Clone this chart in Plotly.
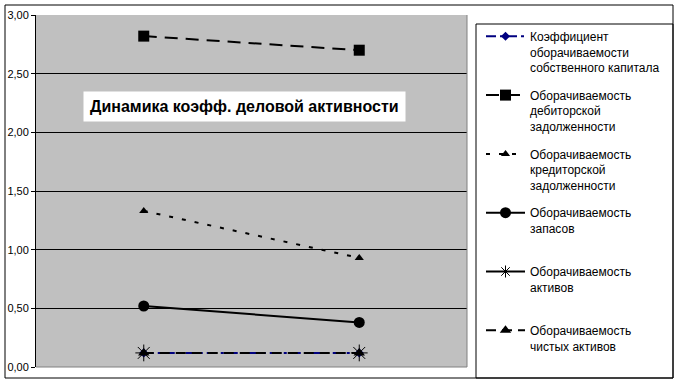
import plotly.graph_objects as go

categories = ["Период 1", "Период 2"]

names = [
    "Коэффициент<br>оборачиваемости<br>собственного капитала",
    "Оборачиваемость<br>дебиторской<br>задолженности",
    "Оборачиваемость<br>кредиторской<br>задолженности",
    "Оборачиваемость<br>запасов<br>&nbsp;",
    "Оборачиваемость<br>активов<br>&nbsp;",
    "Оборачиваемость<br>чистых активов<br>&nbsp;",
]
equity_turnover = [0.12, 0.12]
receivables_turnover = [2.82, 2.70]
payables_turnover = [1.33, 0.93]
inventory_turnover = [0.52, 0.38]
assets_turnover = [0.12, 0.12]
net_assets_turnover = [0.12, 0.12]

title_text = "Динамика коэфф. деловой активности"
y_ticks = [0, 0.5, 1, 1.5, 2, 2.5, 3]

W, H = 678, 383
L, R, T, B = 36, 467, 15, 367
pw, ph = R - L, B - T


def px(x):
    return (x - L) / pw


def py(y):
    return (B - y) / ph


fig = go.Figure()

fig.add_trace(go.Scatter(
    x=categories, y=equity_turnover, name=names[0], legendgroup="g0",
    mode="lines+markers",
    line=dict(color="#000080", width=2, dash="10px,4px,3px,4px"),
    marker=dict(symbol="diamond", size=7, color="#000080"),
))
fig.add_trace(go.Scatter(
    x=categories, y=receivables_turnover, name=names[1], legendgroup="g1",
    mode="lines+markers",
    line=dict(color="black", width=2, dash="13px,8px"),
    marker=dict(symbol="square", size=11, color="black"),
))
fig.add_trace(go.Scatter(
    x=categories, y=payables_turnover, name=names[2], legendgroup="g2",
    mode="lines+markers",
    line=dict(color="black", width=2, dash="4px,9px"),
    marker=dict(symbol="triangle-up", size=8, color="black"),
))
fig.add_trace(go.Scatter(
    x=categories, y=inventory_turnover, name=names[3], legendgroup="g3",
    mode="lines+markers",
    line=dict(color="black", width=2),
    marker=dict(symbol="circle", size=11, color="black"),
))
# assets turnover: markers in plot, line shown only in legend
fig.add_trace(go.Scatter(
    x=categories, y=[None, None], name=names[4], legendgroup="g4",
    mode="lines+markers",
    line=dict(color="black", width=2),
    marker=dict(symbol="asterisk-open", size=10, color="black", line=dict(color="black", width=1)),
))
fig.add_trace(go.Scatter(
    x=categories, y=assets_turnover, name=names[4], legendgroup="g4", showlegend=False,
    mode="markers",
    marker=dict(symbol="asterisk-open", size=14, color="black", line=dict(color="black", width=1)),
))
fig.add_trace(go.Scatter(
    x=categories, y=net_assets_turnover, name=names[5], legendgroup="g5",
    mode="lines+markers",
    line=dict(color="black", width=2, dash="10px,6px"),
    marker=dict(symbol="triangle-up", size=10, color="black"),
))

shapes = [
    # outer frame
    dict(type="rect", xref="paper", yref="paper",
         x0=px(5), x1=px(673), y0=py(378), y1=py(5),
         line=dict(color="black", width=1), layer="below"),
    # legend frame
    dict(type="rect", xref="paper", yref="paper",
         x0=px(476), x1=px(673), y0=py(378), y1=py(24),
         line=dict(color="black", width=1), layer="above"),
    # plot area right/bottom gray border
    dict(type="line", xref="paper", yref="paper", x0=1, x1=1, y0=0, y1=1,
         line=dict(color="#808080", width=1), layer="above"),
    dict(type="line", xref="paper", yref="paper", x0=0, x1=1, y0=0, y1=0,
         line=dict(color="#808080", width=1), layer="above"),
]

fig.update_layout(
    width=W, height=H,
    margin=dict(l=L, r=W - R, t=T, b=H - B, pad=0, autoexpand=False),
    paper_bgcolor="white",
    plot_bgcolor="#C0C0C0",
    separators=", ",
    font=dict(family="Liberation Sans, Arial, sans-serif", color="black", size=12),
    showlegend=True,
    legend=dict(
        x=px(481), y=py(22), xanchor="left", yanchor="top",
        bgcolor="rgba(0,0,0,0)", borderwidth=0,
        font=dict(size=12, color="black"),
        tracegroupgap=9, valign="top", traceorder="grouped",
        itemwidth=39, maxheight=600,
    ),
    shapes=shapes,
    annotations=[dict(
        text="<b>" + title_text + "</b>", xref="paper", yref="paper",
        x=px(244), y=py(106), xanchor="center", yanchor="middle",
        showarrow=False, bgcolor="white", borderpad=6,
        font=dict(size=16, color="black", family="Liberation Sans, Arial, sans-serif"),
    )],
)
fig.update_xaxes(
    type="category", range=[-0.5, 1.5], showticklabels=False, ticks="",
    showgrid=False, zeroline=False, showline=False, fixedrange=True,
)
fig.update_yaxes(
    range=[0, 3], tickvals=y_ticks, tickformat=".2f",
    showgrid=True, gridcolor="black", gridwidth=1, zeroline=False,
    showline=True, linecolor="black", linewidth=1,
    ticks="outside", ticklen=4, tickcolor="black",
    tickfont=dict(size=11, color="black"), fixedrange=True,
)

fig.write_html("out.html", config={"displayModeBar": False},
               post_script="document.body.style.margin='0';")
